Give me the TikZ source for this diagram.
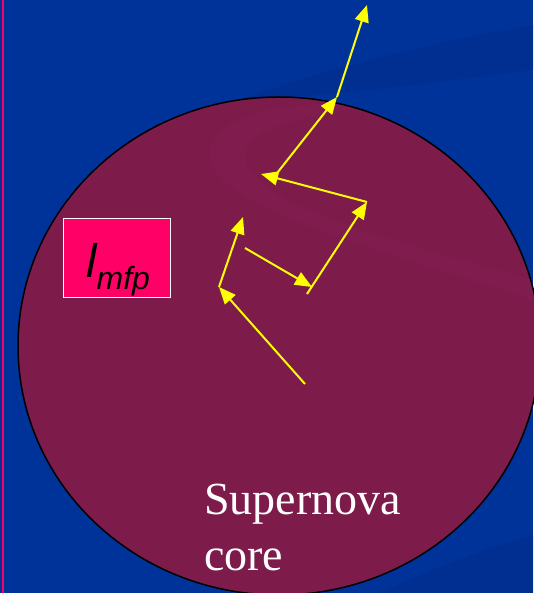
\documentclass[tikz,border=0pt]{standalone}
\usepackage{fontspec}
\setmainfont{Liberation Serif}
\newfontfamily\lfont{Liberation Sans}
\usetikzlibrary{arrows.meta}
\definecolor{bgblue}{RGB}{0,51,153}
\definecolor{bgdark}{RGB}{0,45,140}
\definecolor{core}{RGB}{125,27,75}
\definecolor{corelight}{RGB}{134,32,82}
\definecolor{hotpink}{RGB}{255,0,102}
\definecolor{ray}{RGB}{255,255,0}
\tikzset{
  ray/.style={draw=ray, line width=2pt, -{Triangle[length=17pt,width=14pt]}},
  label/.style={text=white, font=\fontsize{46}{52}\selectfont, inner sep=0pt}
}
\begin{document}
\begin{tikzpicture}[x=1pt,y=-1pt]
\useasboundingbox (0,0) rectangle (533,593);
\fill[bgblue] (0,0) rectangle (533,593);
% faint background swooshes
\fill[bgdark, opacity=0.6] (240,100) .. controls (350,60) and (450,40) .. (533,25) -- (533,70) .. controls (450,80) and (350,95) .. (240,100) -- cycle;
\fill[bgdark, opacity=0.6] (380,593) .. controls (450,560) and (500,545) .. (533,535) -- (533,593) -- cycle;
% left pink rule
\draw[hotpink, line width=1.5pt] (3,0) -- (3,593);
% core
\fill[core] (279,346) ellipse [x radius=261pt, y radius=249pt];
\begin{scope}
\clip (279,346) ellipse [x radius=261pt, y radius=249pt];
\fill[corelight, opacity=0.5] (533,300) .. controls (420,260) and (200,210) .. (210,150) .. controls (220,110) and (300,100) .. (380,105) .. controls (300,115) and (240,130) .. (245,160) .. controls (255,210) and (430,250) .. (533,280) -- cycle;
\end{scope}
\draw[black, line width=1.5pt] (279,346) ellipse [x radius=261pt, y radius=249pt];
% mean free path box
\node[draw=white, line width=1.2pt, fill=hotpink, minimum width=107pt, minimum height=79pt, inner sep=0pt] (box) at (117,258) {};
\node[anchor=base west, inner sep=0pt, font=\lfont\itshape\fontsize{47}{47}\selectfont] (lmfp) at (86,277) {l\raisebox{-12pt}{\fontsize{32}{32}\selectfont mfp}};
% random walk points
\coordinate (p0) at (305,384);
\coordinate (p1) at (219,287);
\coordinate (p2) at (243,217);
\coordinate (q0) at (245,248);
\coordinate (q1) at (312,287);
\coordinate (r0) at (307,294);
\coordinate (r1) at (367,202);
\coordinate (r2) at (261,174);
\coordinate (s0) at (274,177);
\coordinate (s1) at (337,97);
\coordinate (s2) at (367,5);
\draw[ray] (p0) -- (p1);
\draw[ray] (p1) -- (p2);
\draw[ray] (q0) -- (q1);
\draw[ray] (r0) -- (r1);
\draw[ray] (r1) -- (r2);
\draw[ray] (s0) -- (s1);
\draw[ray] (s1) -- (s2);
% label
\node[label, anchor=base west] (sn) at (204,514) {Supernova};
\node[label, anchor=base west] (co) at (204,570) {core};
\end{tikzpicture}
\end{document}
